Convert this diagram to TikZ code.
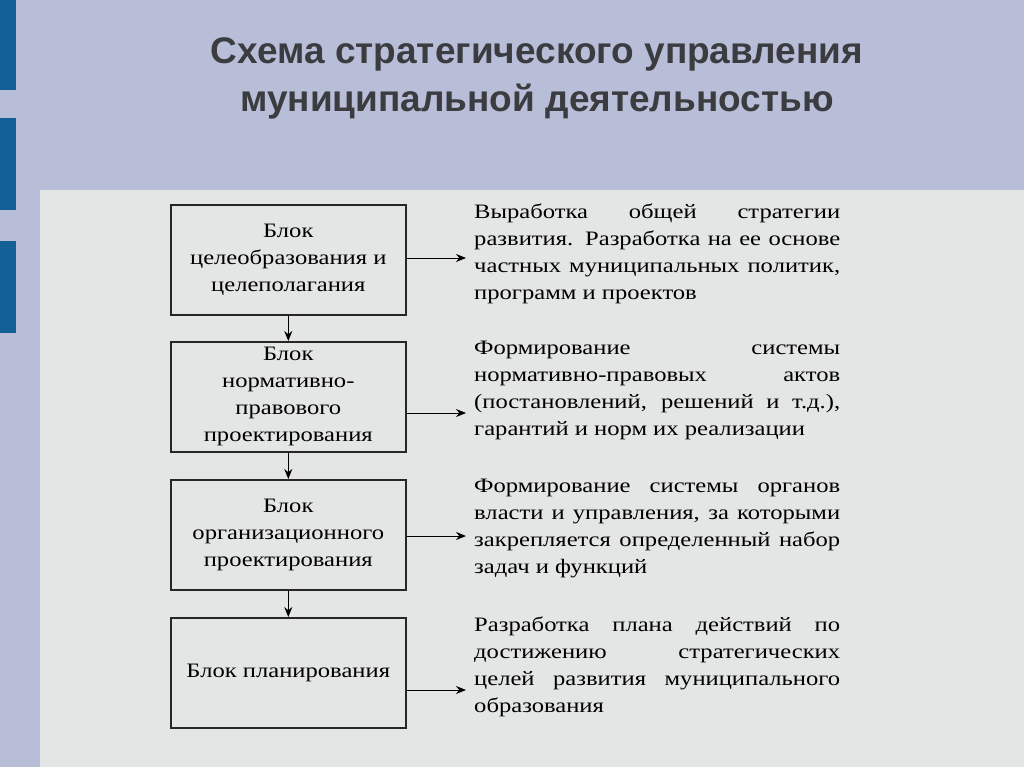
\documentclass[tikz,border=0pt]{standalone}
\usepackage{fontspec}
\setmainfont{Liberation Serif}[FakeStretch=1.2]
\newfontfamily\titlefont{Liberation Sans}
\newcommand{\jline}[1]{\makebox[366pt][s]{#1}\\}
\newcommand{\lline}[1]{\makebox[366pt][l]{#1}}
\usetikzlibrary{arrows.meta}
\tikzset{x=1pt,y=-1pt,
 blk/.style={draw=black!85,line width=1.6pt,minimum width=235pt,minimum height=110pt,anchor=north west,align=center,font=\fontsize{20.5}{27}\selectfont,inner sep=2pt},
 desc/.style={anchor=north west,inner sep=0pt,align=left,font=\fontsize{20.5}{27}\selectfont},
 arr/.style={-{Stealth[length=10pt,width=8pt]},line width=1pt}}
\definecolor{lav}{RGB}{185,190,216}
\definecolor{gr}{RGB}{228,229,229}
\definecolor{stripe}{RGB}{18,96,150}
\definecolor{tgray}{RGB}{58,60,64}
\begin{document}
\begin{tikzpicture}
\fill[lav] (0,0) rectangle (1024,767);
\fill[gr] (40,190) rectangle (1024,767);
\foreach \a/\b in {0/90,118/210,241/333}{\fill[stripe] (0,\a) rectangle (16,\b);}
\node[font=\titlefont\bfseries\fontsize{37}{48}\selectfont,text=tgray,align=center] (title) at (537,78) {Схема стратегического управления\\муниципальной деятельностью};
\node[blk] (b1) at (170,204) {Блок\\целеобразования и\\целеполагания};
\node[blk] (b2) at (170,341) {Блок\\нормативно-\\правового\\проектирования};
\node[blk] (b3) at (170,479) {Блок\\организационного\\проектирования};
\node[blk] (b4) at (170,617) {Блок планирования};
\draw[arr] (b1.south) -- (b2.north);
\draw[arr] (b2.south) -- (b3.north);
\draw[arr] (b3.south) -- (b4.north);
\node[desc] (d1) at (474,204) {\jline{Выработка общей стратегии}\jline{развития. Разработка на ее основе}\jline{частных муниципальных политик,}\lline{программ и проектов}};
\node[desc] (d2) at (474,341) {\jline{Формирование системы}\jline{нормативно-правовых актов}\jline{(постановлений, решений и т.д.),}\lline{гарантий и норм их реализации}};
\node[desc] (d3) at (474,479) {\jline{Формирование системы органов}\jline{власти и управления, за которыми}\jline{закрепляется определенный набор}\lline{задач и функций}};
\node[desc] (d4) at (474,617) {\jline{Разработка плана действий по}\jline{достижению стратегических}\jline{целей развития муниципального}\lline{образования}};
\coordinate (e1) at (466,258);\coordinate (e2) at (466,413);\coordinate (e3) at (466,536);\coordinate (e4) at (466,690);
\draw[arr] (b1.east|-e1) -- (e1);
\draw[arr] (b2.east|-e2) -- (e2);
\draw[arr] (b3.east|-e3) -- (e3);
\draw[arr] (b4.east|-e4) -- (e4);
\end{tikzpicture}
\end{document}
